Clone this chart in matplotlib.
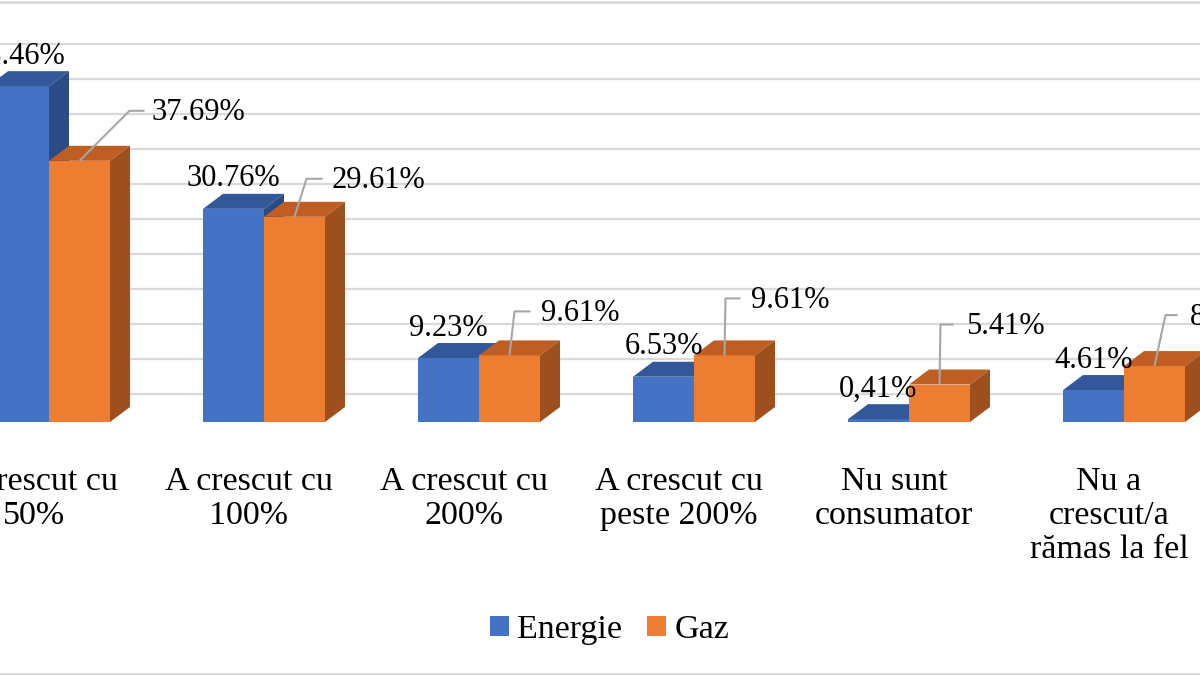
import matplotlib
matplotlib.use("Agg")
import matplotlib.pyplot as plt
from matplotlib.patches import Polygon, Patch
from matplotlib.lines import Line2D

plt.rcParams['font.family'] = ['Liberation Serif', 'DejaVu Serif']

# ---------------- data ----------------
categories = ["A crescut cu\n50%", "A crescut cu\n100%", "A crescut cu\n200%",
              "A crescut cu\npeste 200%", "Nu sunt\nconsumator", "Nu a\ncrescut/a\nrămas la fel"]
energie = [48.46, 30.76, 9.23, 6.53, 0.41, 4.61]
gaz = [37.69, 29.61, 9.61, 9.61, 5.41, 8.07]
energie_labels = ["48.46%", "30.76%", "9.23%", "6.53%", "0,41%", "4.61%"]
gaz_labels = ["37.69%", "29.61%", "9.61%", "9.61%", "5.41%", "8.07%"]
series_names = ["Energie", "Gaz"]
grid_values = [0, 5, 10, 15, 20, 25, 30, 35, 40, 45, 50]

# ---------------- style / geometry ----------------
W, H = 1200, 675
PX_X = 215.0          # pixels per category unit
PX_Y = 6.93           # pixels per percent (front plane)
X0_PX = 49.0          # pixel x of category 0 centre
Y0_PX = 422.0         # pixel y of value 0 (front plane)

BAR_W = 61 / PX_X
DX = 20 / PX_X
DY = 15 / PX_Y

blue = dict(front="#4472C4", top="#33589A", side="#2B4B85")
orange = dict(front="#ED7D31", top="#BE5E22", side="#9D4F1D")
GRID = "#D9D9D9"
LEADER = "#A6A6A6"

# leader-line offsets (pixels) for Gaz labels: elbow dx, elbow dy(up), end dx
gaz_elbow = [(50, 50), (12, 38), (5, 44), (1, 57), (1, 60), (11, 51)]
gaz_end = [65, 28, 21, 16, 14, 23]
gaz_text_dx = [72, 37, 32, 26, 27, 35]

fig = plt.figure(figsize=(12, 6.75), dpi=100)
ax = fig.add_axes([0, 0, 1, 1])
ax.set_xlim((0 - X0_PX) / PX_X, (W - X0_PX) / PX_X)
ax.set_ylim((Y0_PX - H) / PX_Y, Y0_PX / PX_Y)
ax.axis("off")

# back-wall gridlines (floor offset 28 px, 7 px per percent on the wall)
def wall_y(v):
    return (28 + 7.0 * v) / PX_Y

for g in grid_values:
    ax.axhline(wall_y(g), color=GRID, lw=1.6, zorder=0)

# frame lines of chart area
fig.add_artist(Line2D([0, 1], [1 - 1.5 / H, 1 - 1.5 / H], color=GRID, lw=2, transform=fig.transFigure))
fig.add_artist(Line2D([0, 1], [1.5 / H, 1.5 / H], color=GRID, lw=2, transform=fig.transFigure))


def bar3d(x0, h, c, z):
    x1 = x0 + BAR_W
    ax.add_patch(Polygon([(x0, 0), (x1, 0), (x1, h), (x0, h)], closed=True,
                         facecolor=c["front"], edgecolor="none", zorder=z))
    ax.add_patch(Polygon([(x0, h), (x1, h), (x1 + DX, h + DY), (x0 + DX, h + DY)], closed=True,
                         facecolor=c["top"], edgecolor="none", zorder=z))
    ax.add_patch(Polygon([(x1, 0), (x1, h), (x1 + DX, h + DY), (x1 + DX, DY)], closed=True,
                         facecolor=c["side"], edgecolor="none", zorder=z))


for i in range(len(categories)):
    bar3d(i - BAR_W, energie[i], blue, 2 + i * 2)
    bar3d(i, gaz[i], orange, 3 + i * 2)

    # Energie labels centred above the bar
    ax.text(i - BAR_W / 2, energie[i] + DY + 15 / PX_Y, energie_labels[i],
            ha="center", va="center", fontsize=22, zorder=20)

    # Gaz labels with leader lines
    sx = i + BAR_W / 2
    sy = gaz[i]
    ex, ey = gaz_elbow[i]
    xs = [sx, sx + ex / PX_X, sx + gaz_end[i] / PX_X]
    ys = [sy, sy + ey / PX_Y, sy + ey / PX_Y]
    ax.plot(xs, ys, color=LEADER, lw=1.5, zorder=19, solid_capstyle="butt")
    ax.text(sx + gaz_text_dx[i] / PX_X, sy + (ey - 2) / PX_Y, gaz_labels[i],
            ha="left", va="center", fontsize=22, zorder=20)

    # category labels
    ax.text(i - 15 / PX_X, (Y0_PX - 466) / PX_Y, categories[i], ha="center", va="top",
            fontsize=24.5, linespacing=1.17, zorder=20)

handles = [Patch(facecolor=blue["front"]), Patch(facecolor=orange["front"])]
ax.legend(handles, series_names, loc="center", bbox_to_anchor=(609.5 / W, 1 - 630 / H),
          ncol=2, frameon=False, fontsize=24.5, handlelength=0.55, handleheight=0.55,
          handletextpad=0.25, columnspacing=0.73, borderaxespad=0)

fig.savefig("out.png", dpi=100, facecolor="white")
